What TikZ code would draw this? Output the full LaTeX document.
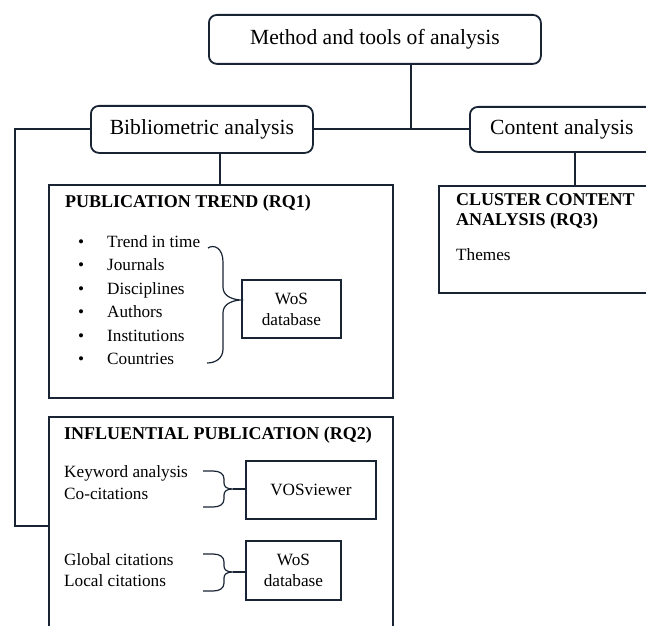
\documentclass[tikz,border=0pt]{standalone}
\usepackage{fontspec}
\setmainfont{Liberation Serif}
\definecolor{lc}{RGB}{24,36,52}
\begin{document}
\begin{tikzpicture}[x=1pt,y=-1pt,
  ln/.style={draw=lc, line width=1.8pt},
  bl/.style={draw=lc, line width=1.2pt},
  rbox/.style={ln, rounded corners=8pt, inner sep=0pt, anchor=north west, font=\fontsize{21.6}{24}\selectfont},
  sbox/.style={ln, inner sep=0pt, anchor=north west},
  body/.style={inner sep=0pt, anchor=mid west, font=\fontsize{17.2}{20}\selectfont},
  ttl/.style={inner sep=0pt, anchor=mid west, font=\fontsize{18}{20}\selectfont\bfseries},
  ctr/.style={inner sep=0pt, align=center, font=\fontsize{17.2}{21}\selectfont}]
\useasboundingbox (0,0) rectangle (646,626);
\clip (0,0) rectangle (646,626);
% level 0/1 boxes
\node[rbox, minimum width=332pt, minimum height=49pt] (top) at (208,14) {Method and tools of analysis};
\node[rbox, minimum width=222pt, minimum height=47pt] (bib) at (90,105) {Bibliometric analysis};
\node[rbox, minimum width=184pt, minimum height=45pt] (con) at (469,106) {Content analysis};
% level 2 boxes
\node[sbox, minimum width=344pt, minimum height=213pt] (pub) at (48,184) {};
\node[sbox, minimum width=344pt, minimum height=260pt] (infl) at (48,416) {};
\node[sbox, minimum width=230pt, minimum height=107pt] (clus) at (438,185) {};
% connectors
\coordinate (j) at (411,128);
\coordinate (bx) at (220,0);
\coordinate (cx) at (575,0);
\coordinate (lb) at (15,526);
\draw[ln] (top.south -| j) -- (j);
\draw[ln] (bib.east) -- (bib.east -| con.west);
\draw[ln] (bib.south -| bx) -- (pub.north -| bx);
\draw[ln] (con.south -| cx) -- (clus.north -| cx);
\draw[ln] (bib.west) -| (lb) -- (lb -| infl.west);
% publication trend
\node[ttl] (t1) at (65,205) {PUBLICATION TREND (RQ1)};
\foreach \y/\t/\n in {245/Trend in time/a1, 268/Journals/a2, 292/Disciplines/a3, 315/Authors/a4, 339/Institutions/a5, 362/Countries/a6}{
  \node[body] (b\n) at (78,\y) {\textbullet};
  \node[body] (\n) at (107,\y) {\t};
}
\node[sbox, minimum width=99pt, minimum height=58pt] (wos1) at (241,279) {};
\node[ctr] (wos1t) at (wos1.center) {WoS\\database};
\coordinate (tip1) at (240,300);
\draw[bl] (208,248) .. controls (214,244) and (223,248) .. (223,262) -- (223,287)
  .. controls (223,295) and (230,299) .. (tip1)
  .. controls (230,301) and (223,305) .. (223,313) -- (223,349)
  .. controls (223,358) and (216,363) .. (207,363);
% cluster content
\node[ttl] (t3a) at (456,203) {CLUSTER CONTENT};
\node[ttl] (t3b) at (456,223) {ANALYSIS (RQ3)};
\node[body] (th) at (456,258) {Themes};
% influential publication
\node[ttl] (t2) at (64,437) {INFLUENTIAL PUBLICATION (RQ2)};
\node[body] (k1) at (64,475) {Keyword analysis};
\node[body] (k2) at (64,497) {Co-citations};
\node[body] (k3) at (64,563) {Global citations};
\node[body] (k4) at (64,584) {Local citations};
\node[sbox, minimum width=130pt, minimum height=58pt] (vos) at (245,460) {};
\node[body, anchor=center] (vost) at (vos.center) {VOSviewer};
\node[sbox, minimum width=95pt, minimum height=59pt] (wos2) at (245,540) {};
\node[ctr] (wos2t) at (wos2.center) {WoS\\database};
\coordinate (tip2) at (233,489);
\coordinate (tip3) at (233,572);
\draw[bl] (203,471) -- (213,471) .. controls (220,471) and (224,474) .. (224,479) -- (224,483)
  .. controls (224,487) and (227,489) .. (tip2)
  .. controls (227,489) and (224,491) .. (224,495) -- (224,499)
  .. controls (224,504) and (220,507) .. (213,507) -- (203,507);
\draw[bl] (tip2) -- (tip2 -| vos.west);
\draw[bl] (203,554) -- (213,554) .. controls (220,554) and (224,557) .. (224,562) -- (224,566)
  .. controls (224,570) and (227,572) .. (tip3)
  .. controls (227,572) and (224,574) .. (224,578) -- (224,583)
  .. controls (224,588) and (220,591) .. (213,591) -- (203,591);
\draw[bl] (tip3) -- (tip3 -| wos2.west);
\end{tikzpicture}
\end{document}
